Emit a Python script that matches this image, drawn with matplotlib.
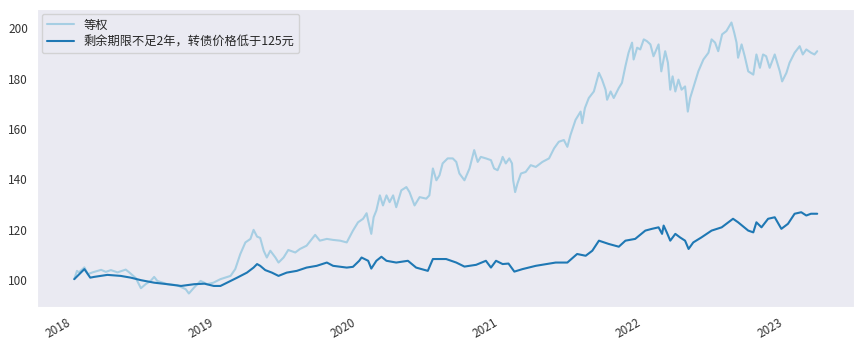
import numpy as np
import pandas as pd
import seaborn as sns
import matplotlib
matplotlib.use("Agg")
from matplotlib import pyplot as plt
import matplotlib.dates as mdates

# equal-weight index
eq_dates = [
    "2018-01-04", "2018-01-11", "2018-01-16", "2018-01-30", "2018-02-08", "2018-02-20",
    "2018-03-14", "2018-03-26", "2018-04-08", "2018-04-25", "2018-05-16", "2018-05-25",
    "2018-06-11", "2018-06-24", "2018-07-06", "2018-07-19", "2018-07-28", "2018-08-05",
    "2018-08-31", "2018-09-25", "2018-10-17", "2018-10-25", "2018-11-07", "2018-11-24",
    "2018-12-11", "2018-12-27", "2019-01-14", "2019-02-09", "2019-02-21", "2019-03-06",
    "2019-03-19", "2019-04-01", "2019-04-09", "2019-04-18", "2019-04-26", "2019-05-05",
    "2019-05-13", "2019-05-22", "2019-06-04", "2019-06-12", "2019-06-25", "2019-07-07",
    "2019-07-25", "2019-08-06", "2019-08-23", "2019-09-14", "2019-09-26", "2019-10-14",
    "2019-10-30", "2019-11-17", "2019-12-04", "2019-12-20", "2020-01-02", "2020-01-15",
    "2020-01-24", "2020-01-28", "2020-02-05", "2020-02-11", "2020-02-18", "2020-02-27",
    "2020-03-06", "2020-03-15", "2020-03-23", "2020-04-01", "2020-04-09", "2020-04-22",
    "2020-05-05", "2020-05-13", "2020-05-26", "2020-06-08", "2020-06-25", "2020-07-03",
    "2020-07-12", "2020-07-21", "2020-07-29", "2020-08-06", "2020-08-19", "2020-09-01",
    "2020-09-10", "2020-09-18", "2020-10-01", "2020-10-14", "2020-10-26", "2020-11-04",
    "2020-11-12", "2020-11-25", "2020-12-08", "2020-12-16", "2020-12-25", "2021-01-03",
    "2021-01-07", "2021-01-15", "2021-01-24", "2021-01-31", "2021-02-03", "2021-02-08",
    "2021-02-14", "2021-02-23", "2021-03-07", "2021-03-20", "2021-04-02", "2021-04-19",
    "2021-05-06", "2021-05-19", "2021-05-31", "2021-06-13", "2021-06-22", "2021-06-30",
    "2021-07-13", "2021-07-26", "2021-07-30", "2021-08-06", "2021-08-16", "2021-08-29",
    "2021-09-11", "2021-09-19", "2021-09-28", "2021-10-02", "2021-10-11", "2021-10-19",
    "2021-11-01", "2021-11-09", "2021-11-18", "2021-11-26", "2021-12-05", "2021-12-09",
    "2021-12-18", "2021-12-26", "2022-01-04", "2022-01-12", "2022-01-21", "2022-01-29",
    "2022-02-11", "2022-02-18", "2022-02-28", "2022-03-07", "2022-03-13", "2022-03-19",
    "2022-03-26", "2022-04-03", "2022-04-11", "2022-04-20", "2022-04-27", "2022-05-03",
    "2022-05-11", "2022-05-24", "2022-06-06", "2022-06-19", "2022-06-27", "2022-07-06",
    "2022-07-14", "2022-07-24", "2022-08-04", "2022-08-17", "2022-08-24", "2022-08-30",
    "2022-09-03", "2022-09-12", "2022-09-20", "2022-09-29", "2022-10-12", "2022-10-20",
    "2022-10-29", "2022-11-06", "2022-11-14", "2022-11-23", "2022-12-06", "2022-12-19",
    "2022-12-25", "2023-01-05", "2023-01-13", "2023-01-26", "2023-02-08", "2023-02-16",
    "2023-02-25", "2023-03-09", "2023-03-18", "2023-03-25",
]
eq_vals = [
    100.3, 103.6, 103.0, 105.0, 102.3, 103.0,
    104.0, 103.2, 103.9, 103.0, 104.1, 103.0,
    100.7, 96.7, 98.3, 99.6, 101.2, 99.6,
    98.3, 97.9, 96.3, 94.6, 96.9, 99.6,
    98.3, 98.9, 100.3, 101.6, 104.3, 110.3,
    114.9, 116.3, 119.9, 117.2, 116.7, 111.6,
    108.9, 111.6, 108.9, 106.9, 108.9, 111.9,
    110.9, 112.3, 113.6, 117.9, 115.6, 116.3,
    115.9, 115.6, 114.9, 119.6, 122.9, 124.3,
    126.5, 123.6, 118.3, 124.9, 127.6, 133.6,
    129.6, 133.6, 130.9, 133.6, 128.9, 135.6,
    136.9, 134.9, 129.6, 132.9, 132.3, 133.6,
    144.3, 139.6, 141.6, 146.3, 148.3, 148.3,
    146.9, 142.3, 139.6, 144.3, 151.6, 146.9,
    148.9, 148.3, 147.6, 144.3, 143.6, 146.9,
    148.9, 146.3, 148.3, 146.3, 139.6, 134.9,
    138.3, 142.3, 142.9, 145.6, 144.9, 146.9,
    148.3, 152.3, 154.9, 155.6, 152.9, 157.6,
    163.6, 166.9, 162.3, 168.3, 172.3, 174.9,
    182.3, 179.6, 175.6, 171.6, 174.9, 172.3,
    176.3, 178.3, 185.0, 190.3, 194.3, 187.6,
    192.3, 191.6, 195.6, 194.9, 193.6, 188.9,
    193.6, 182.9, 190.9, 186.3, 175.6, 180.9,
    174.9, 179.6, 175.6, 176.9, 166.9, 172.3,
    176.3, 182.9, 187.6, 190.3, 195.6, 194.3,
    190.9, 197.6, 198.9, 202.3, 198.3, 194.3,
    188.3, 193.6, 188.9, 182.9, 181.6, 189.6,
    184.3, 189.6, 188.9, 184.3, 189.6, 182.9,
    178.9, 182.3, 186.3, 190.3, 192.9, 189.6,
    191.6, 190.3, 189.6, 190.9,
]

# short maturity, low price subset
sub_dates = [
    "2018-01-04", "2018-01-17", "2018-01-30", "2018-02-14", "2018-02-24", "2018-03-30",
    "2018-05-03", "2018-05-29", "2018-06-24", "2018-07-28", "2018-08-31", "2018-10-05",
    "2018-11-08", "2018-12-04", "2018-12-28", "2019-01-14", "2019-01-31", "2019-02-26",
    "2019-03-23", "2019-04-09", "2019-04-18", "2019-04-26", "2019-05-09", "2019-05-26",
    "2019-06-12", "2019-07-03", "2019-07-29", "2019-08-23", "2019-09-18", "2019-10-14",
    "2019-10-30", "2019-12-04", "2019-12-20", "2020-01-05", "2020-01-11", "2020-01-28",
    "2020-02-05", "2020-02-18", "2020-03-02", "2020-03-15", "2020-04-09", "2020-05-09",
    "2020-05-30", "2020-06-29", "2020-07-12", "2020-08-15", "2020-09-10", "2020-10-01",
    "2020-10-31", "2020-11-25", "2020-12-08", "2020-12-21", "2021-01-07", "2021-01-22",
    "2021-02-06", "2021-02-27", "2021-04-02", "2021-05-23", "2021-06-22", "2021-07-17",
    "2021-08-08", "2021-08-25", "2021-09-11", "2021-10-06", "2021-11-01", "2021-11-18",
    "2021-12-13", "2022-01-08", "2022-01-25", "2022-02-11", "2022-02-20", "2022-02-24",
    "2022-03-04", "2022-03-13", "2022-03-26", "2022-04-07", "2022-04-20", "2022-04-29",
    "2022-05-11", "2022-06-01", "2022-06-27", "2022-07-23", "2022-08-21", "2022-09-03",
    "2022-09-29", "2022-10-12", "2022-10-20", "2022-11-02", "2022-11-19", "2022-12-06",
    "2022-12-23", "2023-01-09", "2023-01-26", "2023-02-12", "2023-02-25", "2023-03-09",
    "2023-03-25",
]
sub_vals = [
    100.3, 102.3, 104.3, 100.9, 101.2, 102.0,
    101.6, 100.9, 99.9, 98.9, 98.3, 97.6,
    98.3, 98.5, 97.6, 97.6, 98.9, 100.9,
    102.9, 104.9, 106.3, 105.6, 103.9, 102.9,
    101.6, 102.9, 103.6, 104.9, 105.6, 106.9,
    105.6, 104.9, 105.2, 107.6, 108.9, 107.6,
    104.5, 107.6, 109.2, 107.6, 106.9, 107.6,
    104.9, 103.6, 108.3, 108.3, 106.9, 105.3,
    106.0, 107.6, 104.9, 107.6, 106.3, 106.5,
    103.3, 104.3, 105.6, 106.9, 106.9, 110.3,
    109.6, 111.6, 115.6, 114.3, 113.2, 115.6,
    116.3, 119.6, 120.3, 120.9, 118.3, 121.6,
    118.9, 115.6, 118.3, 116.9, 115.6, 112.3,
    114.9, 116.9, 119.6, 120.9, 124.3, 122.9,
    119.6, 118.9, 122.9, 120.9, 124.3, 124.9,
    120.3, 122.3, 126.3, 126.9, 125.6, 126.3,
    126.3,
]

labels = ["等权", "剩余期限不足2年，转债价格低于125元"]

sns.set_style("dark")
plt.rcParams["font.family"] = ["Noto Sans CJK SC", "DejaVu Sans"]
plt.rcParams["axes.unicode_minus"] = False

colors = sns.color_palette("Paired", 2)

fig = plt.figure(figsize=(8.63, 3.45), dpi=100)
ax = fig.add_axes([0.043, 0.110, 0.947, 0.864])

ax.plot(pd.to_datetime(eq_dates), eq_vals, color=colors[0], lw=1.5, label=labels[0])
ax.plot(pd.to_datetime(sub_dates), sub_vals, color=colors[1], lw=1.5, label=labels[1])

ax.xaxis.set_major_locator(mdates.YearLocator())
ax.xaxis.set_major_formatter(mdates.DateFormatter("%Y"))
ax.set_yticks([100, 120, 140, 160, 180, 200])
ax.tick_params(labelsize=8.5, colors="#333333", pad=3)
for lab in ax.get_xticklabels():
    lab.set_rotation(30)
    lab.set_ha("right")

ax.legend(loc="upper left", fontsize=8.8, frameon=True, borderaxespad=0.4,
          handlelength=2.2, labelspacing=0.3)

fig.savefig("out.png", dpi=100)
